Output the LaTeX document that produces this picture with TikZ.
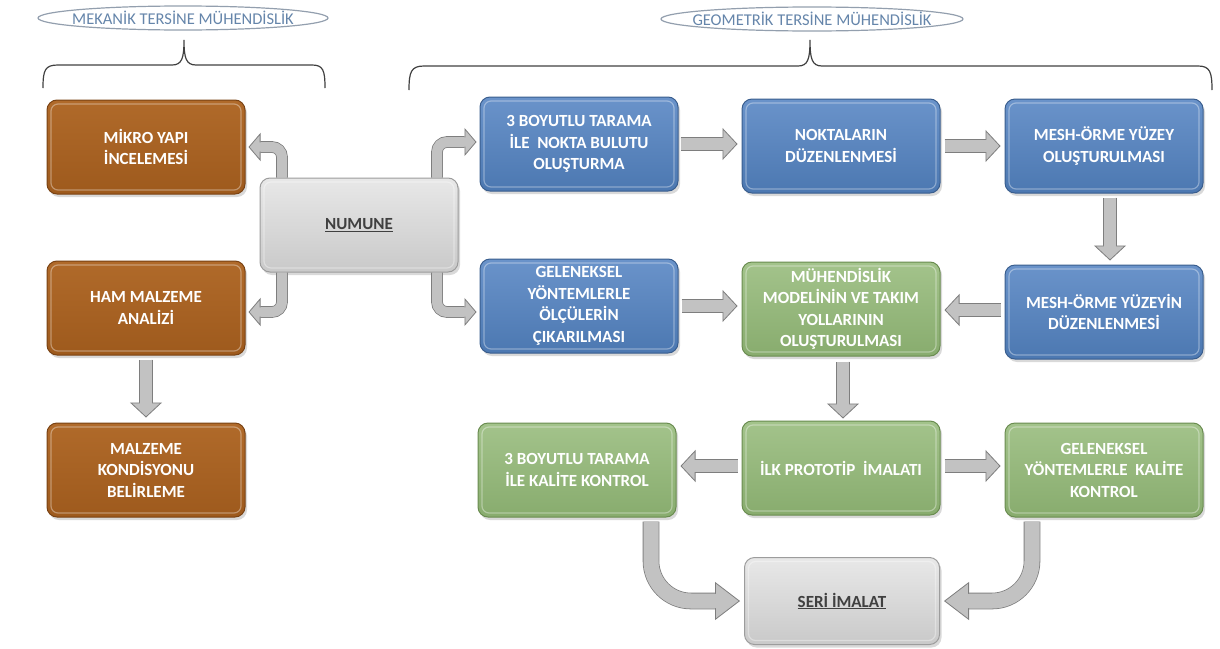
\documentclass[tikz,border=0pt]{standalone}
\usepackage{fontspec}
\setmainfont{Carlito}
\usetikzlibrary{calc, positioning}
\usetikzlibrary{arrows.meta}
\usetikzlibrary{shapes.geometric}
\usetikzlibrary{shadows}

\definecolor{browntop}{HTML}{B06A2A}
\definecolor{brownbot}{HTML}{9E5A1D}
\definecolor{brownedge}{HTML}{7A4314}
\definecolor{bluetop}{HTML}{6A93CA}
\definecolor{bluebot}{HTML}{4C78B1}
\definecolor{blueedge}{HTML}{3A5E8E}
\definecolor{greentop}{HTML}{A3C38B}
\definecolor{greenbot}{HTML}{88AC6E}
\definecolor{greenedge}{HTML}{6A8C50}
\definecolor{graytop}{HTML}{E8E8E8}
\definecolor{graybot}{HTML}{C9C9C9}
\definecolor{grayedge}{HTML}{9C9C9C}
\definecolor{arrowfill}{HTML}{C2C2C2}
\definecolor{arrowline}{HTML}{7E7E7E}
\definecolor{headtext}{HTML}{6585AA}
\definecolor{headedge}{HTML}{939FAE}

\newcommand{\boxfont}{\bfseries\fontsize{17}{21.5}\selectfont}

% shaft, head length, head width, path
\newcommand{\blockarrow}[4]{%
  \draw[barrow, double distance=#1,
        -{Triangle[length=#2, width=#3, fill=arrowfill]}] #4;
  \draw[draw=arrowfill, line width=#1-0.6pt, shorten >=#2-2pt] #4;
}

\tikzset{
  box/.style={rectangle, rounded corners=10pt, minimum width=198pt,
    minimum height=94pt, align=center, font=\boxfont, text=white,
    line width=1pt,
    drop shadow={shadow xshift=2pt, shadow yshift=-3pt, opacity=0.3},
    path picture={
      \draw[white, opacity=0.35, line width=1.2pt, rounded corners=7pt]
        ([shift={(4pt,4pt)}]path picture bounding box.south west) rectangle
        ([shift={(-4pt,-4pt)}]path picture bounding box.north east);
    }},
  brownbox/.style={box, draw=brownedge, top color=browntop, bottom color=brownbot},
  bluebox/.style={box, draw=blueedge, top color=bluetop, bottom color=bluebot},
  greenbox/.style={box, draw=greenedge, top color=greentop, bottom color=greenbot},
  graybox/.style={box, draw=grayedge, top color=graytop, bottom color=graybot,
    text=black!75},
  header/.style={ellipse, draw=headedge, line width=1.2pt, inner sep=0pt},
  headlabel/.style={inner sep=0pt, text=headtext,
    font=\fontsize{16.5}{20}\selectfont},
  barrow/.style={draw=arrowline, line width=0.8pt, double=arrowfill},
  bracestyle/.style={draw=black!75, line width=1.2pt},
}

\begin{document}
\begin{tikzpicture}[x=1pt, y=-1pt]
\useasboundingbox (0,0) rectangle (1220,648);

% headers and braces
\node[header, minimum width=290pt, minimum height=24pt,
  label={[headlabel]center:MEKANİK TERSİNE MÜHENDİSLİK}] (mech) at (183,18) {};
\node[header, minimum width=302pt, minimum height=24pt,
  label={[headlabel]center:GEOMETRİK TERSİNE MÜHENDİSLİK}] (geo) at (812,19) {};

\draw[bracestyle] (43,88) .. controls (43,70) and (45,65) .. (58,65)
  -- (172,65) .. controls (182,65) and (184,58) .. (184,40)
  .. controls (184,58) and (186,65) .. (196,65)
  -- (312,65) .. controls (323,65) and (325,70) .. (325,88);
\draw[bracestyle] (409,90) .. controls (409,72) and (411,66) .. (424,66)
  -- (798,66) .. controls (808,66) and (810,59) .. (810,40)
  .. controls (810,59) and (812,66) .. (822,66)
  -- (1198,66) .. controls (1210,66) and (1212,72) .. (1212,90);

% mechanical side
\node[brownbox] (mikro) at (146,147) {MİKRO YAPI\\İNCELEMESİ};
\node[brownbox] (ham) at (146,308) {HAM MALZEME\\ANALİZİ};
\node[brownbox] (kond) at (146,470) {MALZEME\\KONDİSYONU\\BELİRLEME};
\node[graybox] (numune) at (359,225) {\underline{NUMUNE}};

% geometric side
\node[bluebox] (tarama) at (579,144) {3 BOYUTLU TARAMA\\İLE\ \ NOKTA BULUTU\\OLUŞTURMA};
\node[bluebox] (nokta) at (841,146) {NOKTALARIN\\DÜZENLENMESİ};
\node[bluebox] (meshy) at (1104,146) {MESH-ÖRME YÜZEY\\OLUŞTURULMASI};
\node[bluebox] (olcu) at (579,306) {GELENEKSEL\\YÖNTEMLERLE\\ÖLÇÜLERİN\\ÇIKARILMASI};
\node[greenbox] (model) at (841,309) {MÜHENDİSLİK\\MODELİNİN VE TAKIM\\YOLLARININ\\OLUŞTURULMASI};
\node[bluebox] (meshd) at (1104,312) {MESH-ÖRME YÜZEYİN\\DÜZENLENMESİ};
\node[greenbox] (kalite) at (577,470) {3 BOYUTLU TARAMA\\İLE KALİTE KONTROL};
\node[greenbox] (proto) at (841,468) {İLK PROTOTİP\ \ İMALATI};
\node[greenbox] (gkalite) at (1104,470) {GELENEKSEL\\YÖNTEMLERLE\ \ KALİTE\\KONTROL};
\node[graybox, minimum width=195pt, minimum height=87pt] (seri) at (842,601)
  {\underline{SERİ İMALAT}};

% arrows out of the sample
\blockarrow{10pt}{12pt}{28pt}{[rounded corners=10pt]
  ([xshift=-77pt]numune.north) |- ([xshift=3pt]mikro.east)}
\blockarrow{10pt}{12pt}{28pt}{[rounded corners=10pt]
  ([xshift=-77pt]numune.south) |- ([xshift=3pt,yshift=-4pt]ham.east)}
\blockarrow{10pt}{12pt}{28pt}{[rounded corners=10pt]
  ([xshift=78pt]numune.north) |- ([xshift=-3pt,yshift=2pt]tarama.west)}
\blockarrow{10pt}{12pt}{28pt}{[rounded corners=10pt]
  ([xshift=78pt]numune.south) |- ([xshift=-3pt,yshift=-6pt]olcu.west)}

% straight arrows
\blockarrow{12pt}{15pt}{32pt}{([yshift=-4pt]ham.south) -- ([yshift=5pt]ham.south |- kond.north)}
\blockarrow{12pt}{15pt}{32pt}{([xshift=2pt]tarama.east) -- ([xshift=-4pt]tarama.east -| nokta.west)}
\blockarrow{12pt}{15pt}{32pt}{([xshift=4pt]nokta.east) -- ([xshift=-4pt]meshy.west)}
\blockarrow{12pt}{15pt}{32pt}{([xshift=6pt,yshift=-4pt]meshy.south) -- ([xshift=6pt,yshift=4pt]meshy.south |- meshd.north)}
\blockarrow{12pt}{15pt}{32pt}{([xshift=-4pt,yshift=2pt]meshd.west) -- ([xshift=4pt,yshift=2pt]meshd.west -| model.east)}
\blockarrow{12pt}{15pt}{32pt}{([xshift=3pt]olcu.east) -- ([xshift=-4pt]olcu.east -| model.west)}
\blockarrow{12pt}{15pt}{32pt}{([xshift=2pt,yshift=-5pt]model.south) -- ([xshift=2pt,yshift=2pt]model.south |- proto.north)}
\blockarrow{12pt}{15pt}{32pt}{([xshift=-4pt,yshift=2pt]proto.west) -- ([xshift=4pt,yshift=2pt]proto.west -| kalite.east)}
\blockarrow{12pt}{15pt}{32pt}{([xshift=4pt,yshift=2pt]proto.east) -- ([xshift=-4pt,yshift=2pt]proto.east -| gkalite.west)}

% into series production
\blockarrow{15pt}{25pt}{38pt}{[rounded corners=40pt]
  ([xshift=74pt,yshift=-4pt]kalite.south) |- ([xshift=-4pt]seri.west)}
\blockarrow{15pt}{25pt}{38pt}{[rounded corners=40pt]
  ([xshift=-72pt,yshift=-4pt]gkalite.south) |- ([xshift=4pt]seri.east)}
\end{tikzpicture}
\end{document}
